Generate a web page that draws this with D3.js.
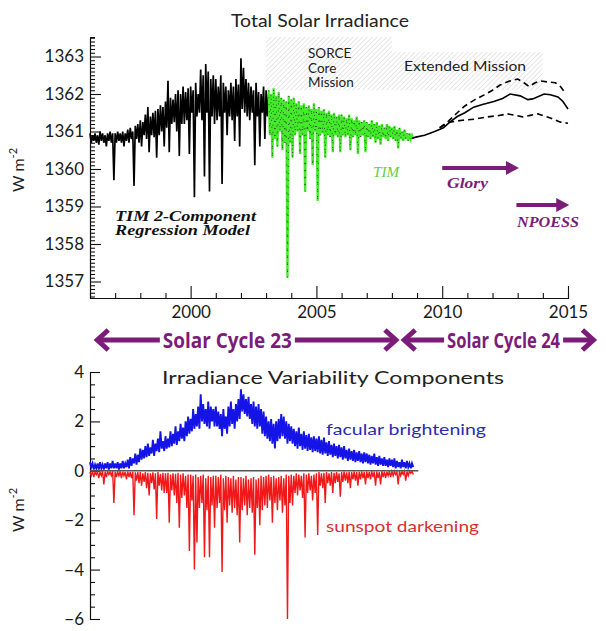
<!DOCTYPE html>
<html>
<head>
<meta charset="utf-8">
<script src="https://cdn.jsdelivr.net/npm/d3@7"></script>
<style>
  body { margin: 0; background: #fff; }
  svg { display: block; font-family: Lato, "DejaVu Sans", sans-serif; }
</style>
</head>
<body>
<div id="wrapper"></div>
<script>
// ---- data ----
// sampled every 0.1 yr: upper edge (hi) and lower edge (lo) of the dense daily band
const step = 0.1

const tsiStart = 1996.0   // TIM 2-component regression model (black)
const tsiHi = [
  1360.95,1360.9,1360.95,1360.9,1361.0,1360.95,1360.9,1360.95,1361.0,1360.95,
  1360.95,1361.0,1360.95,1361.0,1360.95,1361.05,1361.1,1361.0,1361.15,1361.2,
  1361.3,1361.25,1361.45,1361.65,1361.4,1361.5,1361.55,1361.6,1361.7,1361.65,
  1361.8,1362.35,1361.9,1361.85,1362.0,1362.1,1362.0,1362.2,1362.05,1362.15,
  1362.2,1362.1,1362.3,1362.0,1362.65,1362.5,1362.8,1362.6,1362.4,1362.5,
  1362.4,1362.2,1362.5,1362.3,1362.2,1362.1,1362.3,1362.2,1362.4,1362.25,
  1362.95,1362.7,1362.4,1362.3,1362.2,1362.1,1362.3,1362.05,1362.0,1362.2,
  1362.1,1362.0
]
const tsiLo = [
  1360.7,1360.75,1360.7,1360.65,1360.75,1360.7,1360.6,1360.75,1360.7,1359.7,
  1360.7,1360.75,1360.7,1360.6,1360.75,1360.7,1360.8,1359.55,1360.8,1360.7,
  1360.6,1360.9,1360.8,1360.45,1360.9,1360.85,1360.3,1360.9,1361.0,1360.6,
  1361.1,1360.45,1361.2,1361.25,1361.0,1360.35,1361.2,1361.2,1361.3,1360.4,
  1361.5,1359.25,1361.4,1361.5,1361.3,1359.8,1361.5,1359.4,1361.4,1361.2,
  1361.3,1361.4,1359.6,1361.5,1360.9,1361.4,1361.3,1360.75,1361.4,1360.6,
  1361.6,1361.5,1361.4,1361.3,1361.5,1360.1,1361.4,1360.6,1361.5,1360.8,
  1361.4,1361.5
]

const timStart = 2003.1   // SORCE TIM measurements (green)
const timHi = [
  1362.1,1362.0,1362.15,1361.95,1362.05,1361.9,1361.85,1361.8,1361.95,
  1361.85,1361.9,1361.75,1361.8,1361.7,1361.75,1361.65,1361.7,1361.6,1361.75,
  1361.6,1361.65,1361.55,1361.6,1361.5,1361.55,1361.45,1361.5,1361.4,1361.45,
  1361.45,1361.4,1361.35,1361.45,1361.35,1361.3,1361.4,1361.3,1361.25,1361.3,
  1361.25,1361.2,1361.3,1361.2,1361.25,1361.15,1361.2,1361.1,1361.2,1361.15,
  1361.1,1361.15,1361.05,1361.1,1361.0,1361.05,1360.95,1360.95,1360.9
]
const timLo = [
  1360.9,1360.3,1360.8,1360.6,1361.0,1360.5,1360.7,1357.1,1360.7,
  1360.3,1360.9,1361.0,1360.4,1360.9,1359.4,1361.0,1360.8,1360.1,1361.0,
  1359.15,1360.9,1360.95,1360.3,1360.9,1360.85,1360.45,1360.9,1360.85,1360.45,
  1360.9,1360.85,1360.9,1360.5,1360.85,1360.9,1360.4,1360.85,1360.9,1360.45,
  1360.85,1360.8,1360.85,1360.7,1360.8,1360.65,1360.85,1360.8,1360.75,1360.85,
  1360.8,1360.75,1360.55,1360.8,1360.75,1360.8,1360.75,1360.8,1360.8
]

// projected TSI beyond 2008.8: [year, W m-2]
const projMid = [
  [2008.8,1360.82],[2008.95,1360.85],[2009.3,1360.9],[2009.7,1361.0],[2010.05,1361.1],
  [2010.3,1361.25],[2010.6,1361.4],[2010.9,1361.5],[2011.25,1361.65],[2011.6,1361.72],
  [2012.05,1361.8],[2012.4,1361.88],[2012.7,1362.0],[2013.1,1361.95],[2013.4,1361.85],
  [2013.6,1361.87],[2014.05,1362.0],[2014.3,1361.98],[2014.6,1361.92],[2014.8,1361.8],
  [2015.0,1361.6]
]
const projHigh = [
  [2009.9,1361.1],[2010.2,1361.25],[2010.6,1361.5],[2010.9,1361.68],[2011.3,1361.85],
  [2011.65,1361.97],[2012.0,1362.1],[2012.3,1362.24],[2012.7,1362.35],[2013.0,1362.4],
  [2013.25,1362.3],[2013.45,1362.2],[2013.7,1362.3],[2013.9,1362.35],[2014.2,1362.32],
  [2014.5,1362.3],[2014.7,1362.2],[2014.9,1362.02]
]
const projLow = [
  [2009.9,1361.1],[2010.3,1361.25],[2010.8,1361.3],[2011.3,1361.33],[2011.8,1361.39],
  [2012.2,1361.42],[2012.6,1361.47],[2013.2,1361.39],[2013.5,1361.43],[2013.8,1361.47],
  [2014.3,1361.36],[2014.7,1361.25],[2015.0,1361.22]
]

const compStart = 1996.0  // variability components
const facHi = [
  0.35,0.3,0.25,0.3,0.35,0.25,0.3,0.35,0.3,0.4,
  0.3,0.35,0.3,0.4,0.3,0.45,0.55,0.5,0.7,0.65,
  0.9,0.85,1.0,1.1,0.95,1.25,1.1,1.3,1.6,1.2,
  1.4,1.3,1.6,1.5,1.8,1.6,1.9,1.75,2.0,2.2,
  2.1,2.5,2.3,2.6,3.1,2.7,2.5,2.8,2.6,2.5,
  2.6,2.4,2.3,2.5,2.2,2.6,2.8,2.5,2.7,2.9,
  3.3,3.1,2.9,3.0,2.7,2.8,2.6,2.7,2.5,2.4,
  2.2,2.0,2.1,1.9,2.0,2.1,2.3,2.2,2.0,1.9,
  1.8,1.7,1.6,1.75,1.5,1.6,1.45,1.5,1.35,1.4,
  1.3,1.4,1.25,1.35,1.15,1.2,1.05,1.1,1.0,1.05,
  0.95,1.0,0.85,0.9,0.8,0.85,0.75,0.8,0.7,0.75,
  0.7,0.65,0.6,0.7,0.55,0.6,0.5,0.55,0.45,0.5,
  0.45,0.5,0.4,0.35,0.45,0.35,0.4,0.3,0.3
]
const facLo = [
  0.15,0.05,0.1,0.05,0.1,0.05,0.1,0.05,0.1,0.1,
  0.1,0.05,0.1,0.1,0.15,0.1,0.2,0.3,0.25,0.35,
  0.45,0.5,0.55,0.6,0.7,0.6,0.8,0.75,0.9,0.8,
  0.9,0.95,1.0,1.1,1.05,1.2,1.3,1.2,1.4,1.5,
  1.6,1.7,1.8,1.7,2.0,1.9,1.8,1.7,2.0,1.8,
  1.8,1.7,1.4,1.7,1.5,1.8,1.9,1.7,2.0,2.1,
  2.4,2.3,2.2,2.1,1.9,1.8,1.7,1.8,1.5,1.4,
  1.3,1.2,1.1,0.9,1.2,1.3,1.4,1.3,1.1,1.2,
  1.1,1.0,0.9,1.0,0.85,0.9,0.8,0.85,0.75,0.8,
  0.75,0.7,0.65,0.7,0.6,0.65,0.55,0.6,0.5,0.55,
  0.45,0.5,0.4,0.45,0.4,0.35,0.4,0.35,0.3,0.35,
  0.3,0.25,0.3,0.25,0.2,0.25,0.2,0.2,0.15,0.2,
  0.15,0.1,0.15,0.1,0.15,0.1,0.15,0.1,0.15
]
const spotHi = [
  -0.05,-0.02,-0.05,-0.03,-0.05,-0.02,-0.04,-0.03,-0.05,-0.02,
  -0.03,-0.05,-0.02,-0.04,-0.05,-0.03,-0.05,-0.04,-0.06,-0.05,
  -0.05,-0.1,-0.05,-0.08,-0.1,-0.06,-0.1,-0.05,-0.12,-0.08,
  -0.1,-0.08,-0.15,-0.1,-0.12,-0.08,-0.15,-0.1,-0.2,-0.15,
  -0.15,-0.2,-0.15,-0.25,-0.2,-0.15,-0.3,-0.2,-0.25,-0.2,
  -0.2,-0.25,-0.15,-0.3,-0.2,-0.25,-0.3,-0.2,-0.35,-0.25,
  -0.25,-0.3,-0.2,-0.35,-0.3,-0.25,-0.35,-0.3,-0.2,-0.25,
  -0.2,-0.15,-0.25,-0.2,-0.3,-0.25,-0.2,-0.3,-0.15,-0.2,
  -0.15,-0.2,-0.1,-0.15,-0.2,-0.1,-0.15,-0.1,-0.2,-0.15,
  -0.1,-0.05,-0.1,-0.08,-0.05,-0.1,-0.05,-0.08,-0.05,-0.1,
  -0.05,-0.03,-0.06,-0.04,-0.05,-0.03,-0.05,-0.04,-0.03,-0.05,
  -0.03,-0.05,-0.02,-0.04,-0.03,-0.05,-0.02,-0.03,-0.04,-0.02,
  -0.03,-0.02,-0.04,-0.02,-0.03,-0.02,-0.03,-0.02,-0.02
]
const spotLo = [
  -0.2,-0.25,-0.15,-0.3,-0.2,-0.55,-0.25,-0.15,-0.2,-1.3,
  -0.25,-0.2,-0.3,-0.2,-0.35,-0.25,-0.3,-1.8,-0.4,-0.5,
  -0.6,-0.45,-0.7,-1.0,-0.5,-0.75,-1.95,-0.6,-0.8,-0.9,
  -0.9,-2.1,-0.8,-1.0,-1.3,-2.3,-1.1,-1.0,-1.5,-3.25,
  -1.2,-4.0,-2.9,-1.5,-1.3,-3.5,-1.6,-3.5,-1.4,-2.3,
  -1.5,-1.3,-4.1,-1.6,-2.1,-1.4,-1.7,-1.5,-1.8,-2.9,
  -1.6,-1.4,-1.8,-1.5,-1.7,-3.4,-1.5,-2.2,-1.6,-1.4,
  -1.5,-1.2,-2.1,-1.3,-1.6,-1.2,-1.7,-1.4,-6.0,-1.3,
  -1.4,-0.9,-1.0,-0.8,-1.1,-2.7,-0.9,-0.8,-1.2,-0.9,
  -2.6,-0.6,-0.7,-1.3,-0.5,-0.6,-0.9,-0.5,-0.45,-1.05,
  -0.45,-0.4,-0.5,-0.7,-0.35,-0.4,-0.6,-0.35,-0.3,-0.55,
  -0.3,-0.35,-0.25,-0.6,-0.3,-0.55,-0.25,-0.3,-0.2,-0.25,
  -0.2,-0.15,-0.55,-0.2,-0.15,-0.4,-0.2,-0.1,-0.15
]

// annotations
const missionNames = ["SORCE Core Mission", "Extended Mission"]
const missionSpans = [[2003.0, 2008.0], [2008.0, 2014.0]]
const missionTops = [1363.52, 1363.12]
const missionBottom = 1362.1
const futureNames = ["Glory", "NPOESS"]
const futureSpans = [[2010.0, 2013.05], [2012.95, 2015.05]]
const futureLevels = [1360.03, 1359.04]
const cycleNames = ["Solar Cycle 23", "Solar Cycle 24"]
const cycleSpans = [[1996.25, 2008.2], [2008.45, 2016.05]]
const cycleCenters = [2001.46, 2012.44]
const cycleTextWidths = [129, 113]
const zeroLineEnd = 2009.05

const xTicks = [2000, 2005, 2010, 2015]
const tsiTicks = [1357, 1358, 1359, 1360, 1361, 1362, 1363]
const compTicks = [-6, -4, -2, 0, 2, 4]

const purple = "#7b1c79"

function zigzag(start, hi, lo) {
  const pts = []
  hi.forEach((h, i) => {
    pts.push([start + i * step, h])
    pts.push([start + i * step + step / 2, lo[i]])
  })
  return pts
}

function drawChart() {
  const width = 606
  const height = 631

  const svg = d3.select("#wrapper").append("svg")
      .attr("width", width)
      .attr("height", height)

  const x = d3.scaleLinear().domain([1996, 2015]).range([90, 568])
  const yTop = d3.scaleLinear().domain([1356.56, 1363.52]).range([298, 37])
  const yBot = d3.scaleLinear().domain([-6, 4]).range([619, 372])

  // hatch pattern for mission boxes
  const defs = svg.append("defs")
  defs.append("pattern")
      .attr("id", "hatch")
      .attr("patternUnits", "userSpaceOnUse")
      .attr("width", 3.4).attr("height", 3.4)
      .attr("patternTransform", "rotate(45)")
    .append("line")
      .attr("x1", 0).attr("y1", 0).attr("x2", 0).attr("y2", 3.4)
      .attr("stroke", "#c2c2c2").attr("stroke-width", 0.8)

  svg.selectAll("rect.mission")
    .data(missionSpans)
    .join("rect")
      .attr("class", "mission")
      .attr("x", d => x(d[0]))
      .attr("width", d => x(d[1]) - x(d[0]))
      .attr("y", (d, i) => yTop(missionTops[i]))
      .attr("height", (d, i) => yTop(missionBottom) - yTop(missionTops[i]))
      .attr("fill", "url(#hatch)")

  // ---- axes ----
  const styleAxis = g => {
    g.attr("font-family", null).attr("font-size", null)
    g.selectAll("text").attr("fill", "#1a1a1a").style("font-size", "17px")
    g.selectAll("line,path").attr("stroke", "#111").attr("stroke-width", 1.1)
  }

  const tsiMinor = d3.range(13566, 13636).map(v => v / 10).filter(v => !Number.isInteger(v))
  svg.append("g").attr("transform", "translate(90,0)")
      .call(d3.axisLeft(yTop).tickValues(tsiMinor).tickSize(-5).tickFormat(""))
      .call(styleAxis)
  svg.append("g").attr("transform", "translate(90,0)")
      .call(d3.axisLeft(yTop).tickValues(tsiTicks).tickSize(-11).tickSizeOuter(0)
        .tickPadding(6).tickFormat(d3.format("d")))
      .call(styleAxis)

  const yearMinor = d3.range(1997, 2015).filter(v => v % 5 !== 0)
  svg.append("g").attr("transform", "translate(0,298)")
      .call(d3.axisBottom(x).tickValues(yearMinor).tickSize(-5).tickFormat(""))
      .call(styleAxis)
  svg.append("g").attr("transform", "translate(0,298)")
      .call(d3.axisBottom(x).tickValues(xTicks).tickSize(-12).tickSizeOuter(0)
        .tickPadding(8).tickFormat(d3.format("d")))
      .call(styleAxis)

  const compMinor = d3.range(-6, 4.01, 0.5).filter(v => v % 2 !== 0)
  svg.append("g").attr("transform", "translate(90,0)")
      .call(d3.axisLeft(yBot).tickValues(compMinor).tickSize(-5).tickFormat(""))
      .call(styleAxis)
  svg.append("g").attr("transform", "translate(90,0)")
      .call(d3.axisLeft(yBot).tickValues(compTicks).tickSize(-10).tickSizeOuter(0)
        .tickPadding(6))
      .call(styleAxis)

  // ---- top panel lines ----
  const lineTop = d3.line().x(d => x(d[0])).y(d => yTop(d[1]))
  const lineBot = d3.line().x(d => x(d[0])).y(d => yBot(d[1]))

  svg.append("path")
      .attr("d", lineTop(zigzag(tsiStart, tsiHi, tsiLo)))
      .attr("fill", "none").attr("stroke", "#000").attr("stroke-width", 1.7)

  const timPts = zigzag(timStart, timHi, timLo)
  svg.append("path")
      .attr("d", lineTop(timPts))
      .attr("fill", "none").attr("stroke", "#45ea2c").attr("stroke-width", 2.3)
  svg.append("path")
      .attr("d", lineTop(timPts))
      .attr("fill", "none").attr("stroke", "#111").attr("stroke-width", 0.7)
      .attr("stroke-dasharray", "1,6")

  svg.append("path")
      .attr("d", lineTop(projMid))
      .attr("fill", "none").attr("stroke", "#000").attr("stroke-width", 1.6)
  svg.selectAll("path.proj")
    .data([projHigh, projLow])
    .join("path")
      .attr("class", "proj")
      .attr("d", lineTop)
      .attr("fill", "none").attr("stroke", "#000").attr("stroke-width", 1.6)
      .attr("stroke-dasharray", "6,4")

  // future mission arrows
  futureSpans.forEach((s, i) => {
    const x0 = x(s[0]), x1 = x(s[1]), yy = yTop(futureLevels[i])
    svg.append("line")
        .attr("x1", x0).attr("x2", x1 - 9).attr("y1", yy).attr("y2", yy)
        .attr("stroke", purple).attr("stroke-width", 4)
    svg.append("path")
        .attr("d", `M${x1},${yy} L${x1 - 13},${yy - 7} L${x1 - 13},${yy + 7} Z`)
        .attr("fill", purple)
  })

  // ---- top panel text ----
  svg.append("text")
      .attr("x", 320).attr("y", 27)
      .attr("text-anchor", "middle")
      .attr("textLength", 178).attr("lengthAdjust", "spacingAndGlyphs")
      .style("font-size", "17px").attr("fill", "#222")
      .text("Total Solar Irradiance")

  const sorce = svg.append("text")
      .attr("x", 308).attr("y", 58)
      .style("font-size", "13.5px").attr("fill", "#222")
  missionNames[0].split(" ").forEach((w, i) => {
    sorce.append("tspan").attr("x", 308).attr("dy", i === 0 ? 0 : 14.5).text(w)
  })
  svg.append("text")
      .attr("x", 404).attr("y", 71)
      .attr("textLength", 122).attr("lengthAdjust", "spacingAndGlyphs")
      .style("font-size", "13.5px").attr("fill", "#222")
      .text(missionNames[1])

  const serif = "'Liberation Serif', 'DejaVu Serif', serif"
  const model = svg.append("text")
      .attr("x", 115).attr("y", 221)
      .style("font-family", serif).style("font-style", "italic").style("font-weight", "bold")
      .style("font-size", "14px").attr("fill", "#111")
  model.append("tspan").attr("x", 115).attr("textLength", 141).attr("lengthAdjust", "spacingAndGlyphs")
      .text("TIM 2-Component")
  model.append("tspan").attr("x", 115).attr("dy", 13.5).attr("textLength", 135).attr("lengthAdjust", "spacingAndGlyphs")
      .text("Regression Model")

  svg.append("text")
      .attr("x", 373).attr("y", 177)
      .attr("textLength", 26).attr("lengthAdjust", "spacingAndGlyphs")
      .style("font-family", serif).style("font-style", "italic")
      .style("font-size", "14px").attr("fill", "#5fcf45")
      .text("TIM")

  const futureLabelPos = [[447, 188, 41], [517, 227, 62]]
  futureNames.forEach((n, i) => {
    svg.append("text")
        .attr("x", futureLabelPos[i][0]).attr("y", futureLabelPos[i][1])
        .attr("textLength", futureLabelPos[i][2]).attr("lengthAdjust", "spacingAndGlyphs")
        .style("font-family", serif).style("font-style", "italic").style("font-weight", "bold")
        .style("font-size", "15px").attr("fill", purple)
        .text(n)
  })

  // y-axis titles
  const unitLabel = (cx, cy) => {
    const t = svg.append("text")
        .attr("transform", `translate(${cx},${cy}) rotate(-90)`)
        .attr("text-anchor", "middle")
        .style("font-size", "16px").attr("fill", "#222")
    t.append("tspan").text("W m")
    t.append("tspan").attr("dy", -7).style("font-size", "11px").text("-2")
  }
  unitLabel(24, 170)
  unitLabel(24, 510)

  // ---- solar cycle arrows ----
  const cy = 340
  cycleSpans.forEach((s, i) => {
    const l = x(s[0]), r = x(s[1])
    const c = x(cycleCenters[i]), half = cycleTextWidths[i] / 2
    svg.append("line").attr("x1", l + 2).attr("x2", c - half - 3).attr("y1", cy).attr("y2", cy)
        .attr("stroke", purple).attr("stroke-width", 5)
    svg.append("line").attr("x1", c + half + 3).attr("x2", r - 2).attr("y1", cy).attr("y2", cy)
        .attr("stroke", purple).attr("stroke-width", 5)
    svg.append("polyline")
        .attr("points", `${l + 12},${cy - 10} ${l + 1},${cy} ${l + 12},${cy + 10}`)
        .attr("fill", "none").attr("stroke", purple).attr("stroke-width", 5)
    svg.append("polyline")
        .attr("points", `${r - 12},${cy - 10} ${r - 1},${cy} ${r - 12},${cy + 10}`)
        .attr("fill", "none").attr("stroke", purple).attr("stroke-width", 5)
    svg.append("text")
        .attr("x", c).attr("y", cy + 8)
        .attr("text-anchor", "middle")
        .attr("textLength", cycleTextWidths[i]).attr("lengthAdjust", "spacingAndGlyphs")
        .style("font-family", "'Liberation Sans Narrow', 'Open Sans', sans-serif")
        .style("font-weight", "bold").style("font-size", "22px")
        .attr("fill", purple)
        .text(cycleNames[i])
  })

  // ---- bottom panel ----
  svg.append("text")
      .attr("x", 162).attr("y", 384)
      .attr("textLength", 342).attr("lengthAdjust", "spacingAndGlyphs")
      .style("font-size", "17px").attr("fill", "#222")
      .text("Irradiance Variability Components")

  svg.append("path")
      .attr("d", lineBot(zigzag(compStart, spotHi, spotLo)))
      .attr("fill", "none").attr("stroke", "#f01818").attr("stroke-width", 1.4)
  svg.append("path")
      .attr("d", lineBot(zigzag(compStart, facHi, facLo)))
      .attr("fill", "none").attr("stroke", "#1414e6").attr("stroke-width", 1.9)

  svg.append("line")
      .attr("x1", x(1996)).attr("x2", x(zeroLineEnd))
      .attr("y1", yBot(0)).attr("y2", yBot(0))
      .attr("stroke", "#555").attr("stroke-width", 1.6)

  svg.append("text")
      .attr("x", 326).attr("y", 435)
      .attr("textLength", 160).attr("lengthAdjust", "spacingAndGlyphs")
      .style("font-size", "15px").attr("fill", "#2b2bb0")
      .text("facular brightening")
  svg.append("text")
      .attr("x", 326).attr("y", 532)
      .attr("textLength", 153).attr("lengthAdjust", "spacingAndGlyphs")
      .style("font-size", "15px").attr("fill", "#d83030")
      .text("sunspot darkening")
}

drawChart()
</script>
</body>
</html>
